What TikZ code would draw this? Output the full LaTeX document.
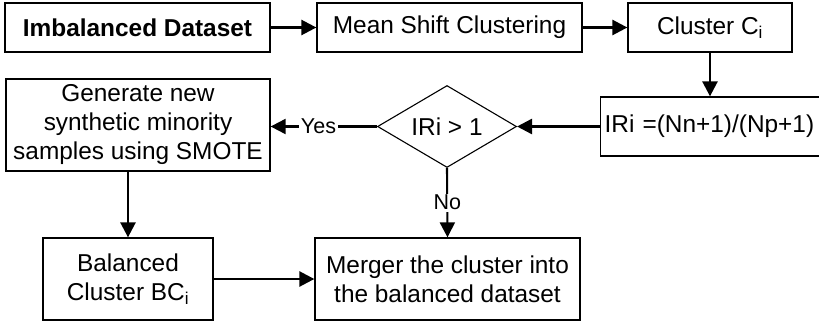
\documentclass[tikz,border=0pt]{standalone}
\usepackage{fontspec}
\setmainfont{Liberation Sans}
\usetikzlibrary{arrows.meta,shapes.geometric}

\begin{document}
\begin{tikzpicture}[x=1pt,y=-1pt,
  box/.style={draw, line width=1.3pt, inner sep=0pt, align=center,
    font=\fontsize{24.4}{29}\selectfont},
  flow/.style={line width=2.6pt, -{Triangle[length=15pt,width=15pt]}},
  branch/.style={line width=2.1pt, -{Triangle[length=15pt,width=15pt]}},
  lbl/.style={fill=white, inner sep=1.5pt, font=\fontsize{21.5}{24}\selectfont}]
\useasboundingbox (0,0) rectangle (819,324);

% top row
\node[box, minimum width=265, minimum height=49] (imb) at (137.5,27.5) {\bfseries Imbalanced Dataset};
\node[box, minimum width=265, minimum height=49] (msc) at (449.5,27.5) {Mean Shift Clustering};
\node[box, minimum width=164, minimum height=49] (clu) at (710,27.5) {Cluster C\textsubscript{i}};

% imbalance ratio and decision
\node[box, anchor=west, minimum height=59, text width=236pt, align=left, inner xsep=4pt]
  (iri) at (600,126.5) {IRi =(Nn+1)/(Np+1)};
\node[box, shape=diamond, line width=1.1pt, minimum width=139, minimum height=82, aspect=1.7]
  (dia) at (447,126.5) {IRi > 1};
\node[box, minimum width=264, minimum height=92] (gen) at (138,125)
  {Generate new\\synthetic minority\\samples using SMOTE};

% bottom row
\node[box, minimum width=170, minimum height=82] (bal) at (128,279) {Balanced\\Cluster BC\textsubscript{i}};
\node[box, minimum width=265, minimum height=82] (mrg) at (447.5,279) {Merger the cluster into\\the balanced dataset};

% connectors
\draw[flow] (imb.east) -- (msc.west);
\draw[flow] (msc.east) -- (clu.west);
\draw[flow] (clu.south) -- (clu.south |- iri.north);
\draw[flow] (iri.west) -- (dia.east);
\draw[branch] (dia.west) -- node[lbl, pos=0.55] {Yes} (gen.east |- dia.west);
\draw[branch] (dia.south) -- node[lbl, pos=0.5] {No} (mrg.north);
\draw[flow] (bal.north |- gen.south) -- (bal.north);
\draw[flow] (bal.east) -- (mrg.west);
\end{tikzpicture}
\end{document}
